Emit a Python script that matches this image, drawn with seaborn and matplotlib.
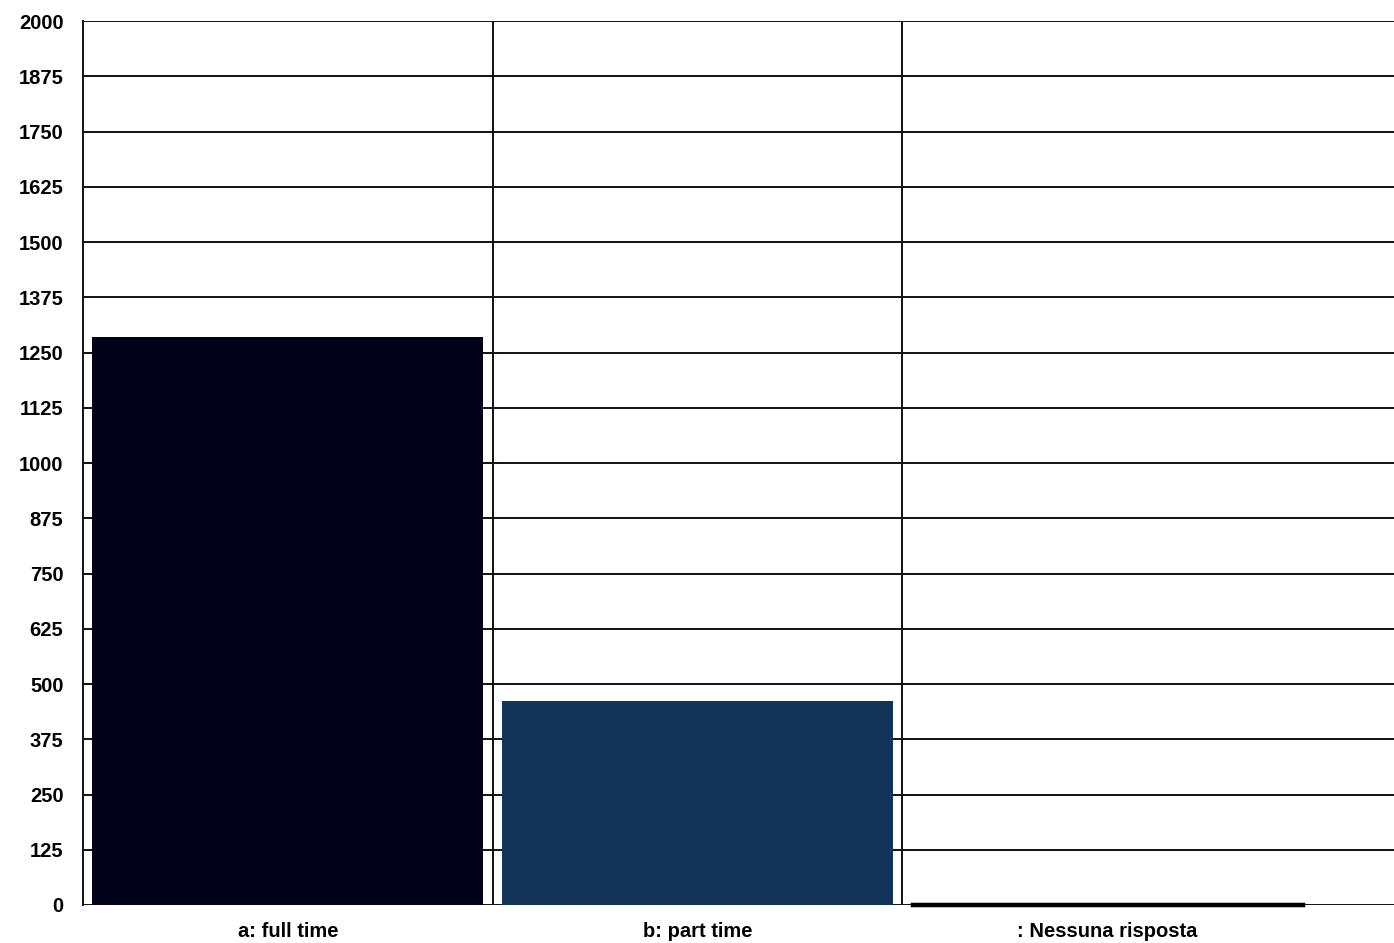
import pandas as pd
import matplotlib.pyplot as plt
import seaborn as sns

categories = ["a: full time", "b: part time", ": Nessuna risposta"]
counts = [1285, 462, 3]
bar_colors = ["#02021a", "#123459", "#000000"]
y_ticks = list(range(0, 2001, 125))

df = pd.DataFrame({"category": categories, "count": counts})

sns.set_style("white")
plt.rcParams["font.family"] = ["Liberation Sans", "DejaVu Sans"]

fig = plt.figure(figsize=(13.94, 9.43), dpi=100)
ax = fig.add_axes([0.0595, 0.0403, 0.9405, 0.9374])

sns.barplot(data=df, x="category", y="count", hue="category",
            palette=bar_colors, width=0.955, legend=False, ax=ax,
            saturation=1, linewidth=0, zorder=3)

# the near-zero bar shows as a thin black line under the baseline
ax.patches[2].set_edgecolor("#000000")
ax.patches[2].set_linewidth(2.5)
ax.patches[2].set_clip_on(False)

# horizontal grid lines
for t in y_ticks:
    ax.axhline(t, color="#111111", lw=1.4, zorder=2)
# category separators
for s in [0.5, 1.5]:
    ax.axvline(s, color="#111111", lw=1.4, zorder=4)

ax.set_ylim(0, 2000)
ax.set_xlim(-0.5, 2.7)
ax.set_yticks(y_ticks)
ax.set_yticklabels([str(t) for t in y_ticks], fontsize=14.5, fontweight="bold",
                   color="black")
ax.set_xticks([-0.5, 0.5, 1.5])
ax.set_xticklabels([])
ax.set_xticks([0, 1, 2], minor=True)
ax.set_xticklabels(categories, minor=True, fontsize=14.5, fontweight="bold",
                   color="black")
ax.tick_params(axis="x", which="minor", length=0, pad=12)
ax.tick_params(axis="x", which="major", length=7, width=1.4, color="#111111")
ax.tick_params(axis="y", length=6, width=1.4, color="#111111", pad=8)
ax.set_xlabel("")
ax.set_ylabel("")

for side in ["top", "right", "bottom"]:
    ax.spines[side].set_visible(False)
ax.spines["left"].set_color("#111111")
ax.spines["left"].set_linewidth(1.4)
ax.spines["left"].set_zorder(5)

fig.savefig("out.png", dpi=100)
